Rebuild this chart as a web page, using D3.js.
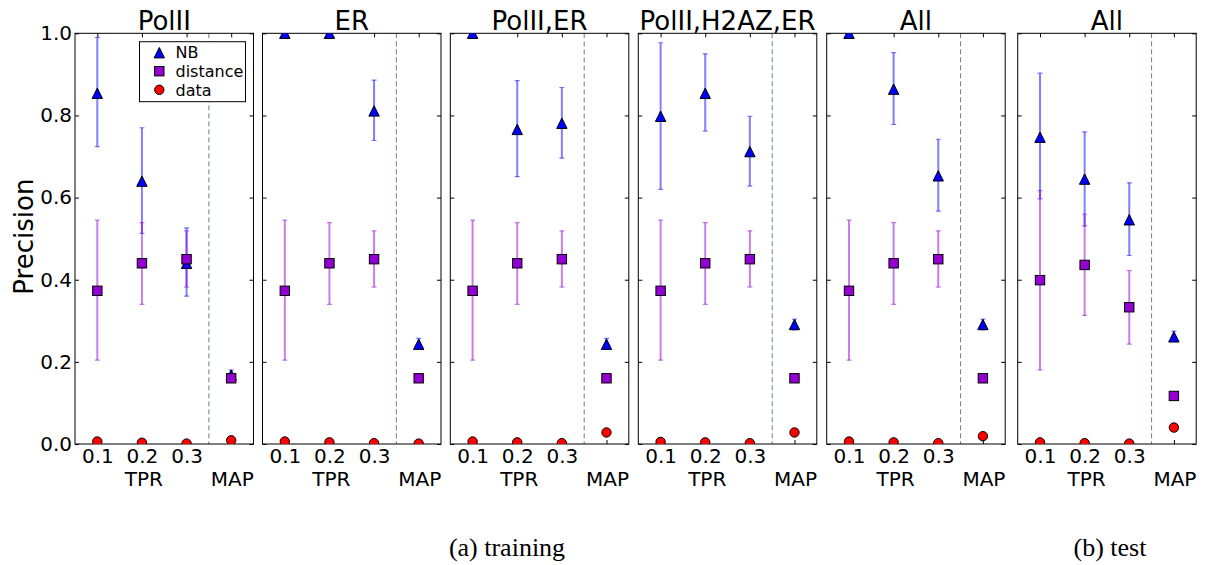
<!DOCTYPE html>
<html>
<head>
<meta charset="utf-8">
<script src="https://cdn.jsdelivr.net/npm/d3@7"></script>
<style>
  html, body { margin: 0; padding: 0; background: #fff; }
  svg { display: block; }
</style>
</head>
<body>
<svg id="chart" width="1210" height="565"></svg>
<script>
// ---------- DATA ----------
const panelTitles = ["PolII", "ER", "PolII,ER", "PolII,H2AZ,ER", "All", "All"];
const categories = ["0.1", "0.2", "0.3", "MAP"];
const yTickLabels = ["0.0", "0.2", "0.4", "0.6", "0.8", "1.0"];
const yTickValues = [0, 0.2, 0.4, 0.6, 0.8, 1.0];
const legendLabels = ["NB", "distance", "data"];
const captions = ["(a) training", "(b) test"];

// NB (triangles): mean, lower, upper per panel per category
const nbMean = [
  [0.854, 0.640, 0.440, 0.168],
  [1.000, 1.000, 0.811, 0.243],
  [1.000, 0.766, 0.781, 0.243],
  [0.798, 0.854, 0.712, 0.291],
  [1.000, 0.864, 0.653, 0.291],
  [0.747, 0.645, 0.546, 0.261]
];
const nbLow = [
  [0.724, 0.513, 0.360, 0.158],
  [1.000, 1.000, 0.739, 0.231],
  [1.000, 0.651, 0.696, 0.231],
  [0.620, 0.762, 0.628, 0.278],
  [1.000, 0.778, 0.567, 0.278],
  [0.597, 0.531, 0.459, 0.249]
];
const nbHigh = [
  [0.990, 0.770, 0.526, 0.180],
  [1.000, 1.000, 0.886, 0.257],
  [1.000, 0.885, 0.868, 0.257],
  [0.977, 0.950, 0.798, 0.304],
  [1.000, 0.953, 0.742, 0.304],
  [0.903, 0.760, 0.636, 0.275]
];
// distance (squares)
const distMean = [
  [0.373, 0.440, 0.450, 0.160],
  [0.373, 0.440, 0.450, 0.160],
  [0.373, 0.440, 0.450, 0.160],
  [0.373, 0.440, 0.450, 0.160],
  [0.373, 0.440, 0.450, 0.160],
  [0.399, 0.436, 0.333, 0.117]
];
const distLow = [
  [0.204, 0.340, 0.382, 0.160],
  [0.204, 0.340, 0.382, 0.160],
  [0.204, 0.340, 0.382, 0.160],
  [0.204, 0.340, 0.382, 0.160],
  [0.204, 0.340, 0.382, 0.160],
  [0.180, 0.313, 0.243, 0.117]
];
const distHigh = [
  [0.545, 0.539, 0.519, 0.160],
  [0.545, 0.539, 0.519, 0.160],
  [0.545, 0.539, 0.519, 0.160],
  [0.545, 0.539, 0.519, 0.160],
  [0.545, 0.539, 0.519, 0.160],
  [0.617, 0.560, 0.422, 0.117]
];
// data (circles)
const dataVals = [
  [0.006, 0.003, 0.001, 0.009],
  [0.006, 0.004, 0.002, 0.001],
  [0.006, 0.004, 0.002, 0.028],
  [0.005, 0.004, 0.002, 0.028],
  [0.006, 0.004, 0.002, 0.019],
  [0.004, 0.002, 0.001, 0.040]
];

// ---------- LAYOUT ----------
const panelLeft = [75, 262.5, 450.3, 638.3, 826.7, 1017.7];
const panelW = 178.5;
const plotTop = 33.3, plotBottom = 444;
const font = "'DejaVu Sans', sans-serif";
const tickFont = 20;

const svg = d3.select("#chart");
svg.append("rect").attr("width", 1210).attr("height", 565).attr("fill", "#fff");

const y = d3.scaleLinear().domain([0, 1]).range([plotBottom, plotTop]);
const x = d3.scaleLinear().domain([-0.5, 3.5]).range([0, panelW]);

const triPath = s => `M0,${-s/2}L${s/2},${s/2}L${-s/2},${s/2}Z`;
const MS = 9.4;
const TS = 10.4;

const nbColor = "#0000ff", distColor = "#9400d3", dataColor = "#ff0000";

panelTitles.forEach((title, p) => {
  const g = svg.append("g").attr("transform", `translate(${panelLeft[p]},0)`);

  const clipId = "clip" + p;
  svg.append("clipPath").attr("id", clipId)
    .append("rect").attr("x", panelLeft[p]).attr("y", plotTop)
    .attr("width", panelW).attr("height", plotBottom - plotTop);

  // dashed separator
  g.append("line")
    .attr("x1", x(2.5)).attr("x2", x(2.5))
    .attr("y1", plotTop).attr("y2", plotBottom)
    .attr("stroke", "#6b7f99").attr("stroke-width", 1)
    .attr("stroke-dasharray", "5,3");

  const marks = svg.append("g").attr("clip-path", `url(#${clipId})`)
    .append("g").attr("transform", `translate(${panelLeft[p]},0)`);

  const idx = d3.range(categories.length);

  const drawErr = (low, high, color) => {
    idx.forEach(i => {
      if (Math.abs(high[p][i] - low[p][i]) < 1e-6) return;
      const eg = marks.append("g").attr("stroke", color).attr("stroke-opacity", 0.5);
      eg.append("line").attr("x1", x(i)).attr("x2", x(i))
        .attr("y1", y(low[p][i])).attr("y2", y(high[p][i])).attr("stroke-width", 2);
      [low[p][i], high[p][i]].forEach(v => {
        eg.append("line").attr("x1", x(i) - 2.5).attr("x2", x(i) + 2.5)
          .attr("y1", y(v)).attr("y2", y(v)).attr("stroke-width", 1.2);
      });
    });
  };

  drawErr(nbLow, nbHigh, nbColor);
  marks.selectAll(".nb").data(idx).join("path")
    .attr("d", triPath(TS))
    .attr("transform", i => `translate(${x(i)},${y(nbMean[p][i])})`)
    .attr("fill", nbColor).attr("stroke", "#000").attr("stroke-width", 1);

  drawErr(distLow, distHigh, distColor);
  marks.selectAll(".dist").data(idx).join("rect")
    .attr("x", i => x(i) - MS / 2).attr("y", i => y(distMean[p][i]) - MS / 2)
    .attr("width", MS).attr("height", MS)
    .attr("fill", distColor).attr("stroke", "#000").attr("stroke-width", 1);

  marks.selectAll(".data").data(idx).join("circle")
    .attr("cx", i => x(i)).attr("cy", i => y(dataVals[p][i]))
    .attr("r", MS / 2)
    .attr("fill", dataColor).attr("stroke", "#000").attr("stroke-width", 1);

  // axes (inward ticks)
  const axB = d3.axisBottom(x).tickValues([0, 1, 2, 3])
    .tickFormat(i => i < 3 ? categories[i] : "").tickSize(-4).tickPadding(5);
  const gb = g.append("g").attr("transform", `translate(0,${plotBottom})`).call(axB);
  const axT = d3.axisTop(x).tickValues([0, 1, 2, 3]).tickFormat("").tickSize(-4);
  const gt = g.append("g").attr("transform", `translate(0,${plotTop})`).call(axT);
  const axL = d3.axisLeft(y).tickValues(yTickValues)
    .tickFormat((d, i) => p === 0 ? yTickLabels[i] : "").tickSize(-4).tickPadding(3);
  const gl = g.append("g").call(axL);
  const axR = d3.axisRight(y).tickValues(yTickValues).tickFormat("").tickSize(-4);
  const gr = g.append("g").attr("transform", `translate(${panelW},0)`).call(axR);

  [gb, gt, gl, gr].forEach(a => {
    a.select(".domain").remove();
    a.selectAll("line").attr("stroke", "#000");
    a.selectAll("text").attr("font-family", font).attr("font-size", tickFont).attr("fill", "#000");
  });

  // frame
  g.append("rect").attr("x", 0).attr("y", plotTop).attr("width", panelW).attr("height", plotBottom - plotTop)
    .attr("fill", "none").attr("stroke", "#000").attr("stroke-width", 1);

  // second row labels
  g.append("text").attr("x", x(1) + 2).attr("y", 486).attr("text-anchor", "middle")
    .attr("font-family", font).attr("font-size", tickFont).text("TPR");
  g.append("text").attr("x", x(3) + 1).attr("y", 486).attr("text-anchor", "middle")
    .attr("font-family", font).attr("font-size", tickFont).text(categories[3]);

  // title
  g.append("text").attr("x", panelW / 2).attr("y", 30).attr("text-anchor", "middle")
    .attr("font-family", font).attr("font-size", 26).text(title);
});

// y label
svg.append("text")
  .attr("transform", `translate(33,${(plotTop + plotBottom) / 2 - 2}) rotate(-90)`)
  .attr("text-anchor", "middle")
  .attr("font-family", font).attr("font-size", 26).text("Precision");

// legend in panel 1
const lg = svg.append("g");
lg.append("rect").attr("x", 139.5).attr("y", 41.7).attr("width", 106).attr("height", 60)
  .attr("fill", "#fff").attr("stroke", "#000").attr("stroke-width", 1);
const legY = [52.7, 71.2, 89.8];
const lx = 159.3;
lg.append("path").attr("d", triPath(TS)).attr("transform", `translate(${lx},${legY[0]})`)
  .attr("fill", nbColor).attr("stroke", "#000");
lg.append("rect").attr("x", lx - MS / 2).attr("y", legY[1] - MS / 2).attr("width", MS).attr("height", MS)
  .attr("fill", distColor).attr("stroke", "#000");
lg.append("circle").attr("cx", lx).attr("cy", legY[2]).attr("r", MS / 2)
  .attr("fill", dataColor).attr("stroke", "#000");
legendLabels.forEach((t, i) => {
  lg.append("text").attr("x", 175.5).attr("y", legY[i]).attr("dy", "0.36em")
    .attr("font-family", font).attr("font-size", 16).text(t);
});

// captions
svg.append("text").attr("x", 507).attr("y", 556).attr("text-anchor", "middle")
  .attr("font-family", "'Liberation Serif', 'Times New Roman', serif").attr("font-size", 26).text(captions[0]);
svg.append("text").attr("x", 1110).attr("y", 556).attr("text-anchor", "middle")
  .attr("font-family", "'Liberation Serif', 'Times New Roman', serif").attr("font-size", 26).text(captions[1]);
</script>
</body>
</html>
